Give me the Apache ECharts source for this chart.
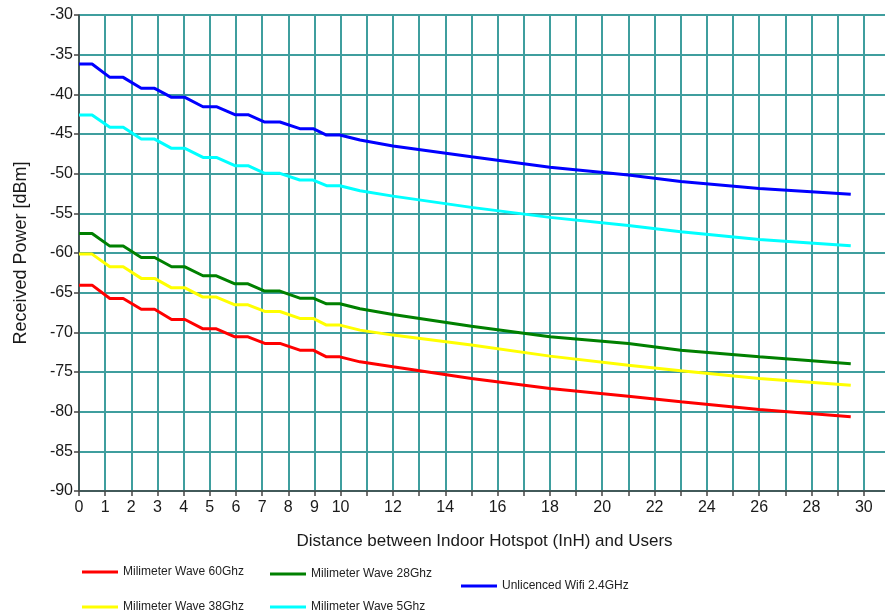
<!DOCTYPE html>
<html>
<head>
<meta charset="utf-8">
<script src="https://cdn.jsdelivr.net/npm/echarts@6/dist/echarts.min.js"></script>
<style>
html,body{margin:0;padding:0;background:#fff;overflow:hidden;width:885px;height:616px;}
#chart{width:890px;height:616px;}
</style>
</head>
<body>
<div id="chart"></div>
<script>
// Distance (x) positions of the staircase vertices
const distance = [0,0.5,1.18,1.69,2.38,2.89,3.54,4.05,4.74,5.25,5.96,6.46,7.1,7.68,8.44,8.95,9.46,9.97,10.74,12,15,18,21,23,26,29.5];

const mmWave60 = [-64.05,-64.05,-65.73,-65.73,-67.08,-67.08,-68.38,-68.38,-69.56,-69.56,-70.57,-70.57,-71.4,-71.4,-72.25,-72.25,-73.09,-73.09,-73.72,-74.35,-75.81,-77.07,-78.05,-78.76,-79.72,-80.65];
const mmWave28 = [-57.53,-57.53,-59.13,-59.13,-60.56,-60.56,-61.74,-61.74,-62.87,-62.87,-63.88,-63.88,-64.8,-64.8,-65.69,-65.69,-66.4,-66.4,-67.03,-67.75,-69.22,-70.57,-71.4,-72.25,-73.09,-73.97];
const wifi24 = [-36.18,-36.18,-37.86,-37.86,-39.24,-39.24,-40.38,-40.38,-41.56,-41.56,-42.57,-42.57,-43.49,-43.49,-44.33,-44.33,-45.13,-45.13,-45.76,-46.52,-47.87,-49.2,-50.18,-51.0,-51.86,-52.6];
const mmWave38 = [-60.14,-60.14,-61.74,-61.74,-63.2,-63.2,-64.39,-64.39,-65.56,-65.56,-66.53,-66.53,-67.37,-67.37,-68.25,-68.25,-69.09,-69.09,-69.72,-70.35,-71.61,-73.0,-74.14,-74.85,-75.81,-76.66];
const mmWave5 = [-42.6,-42.6,-44.16,-44.16,-45.64,-45.64,-46.81,-46.81,-47.95,-47.95,-49.0,-49.0,-49.96,-49.96,-50.8,-50.8,-51.52,-51.52,-52.15,-52.83,-54.25,-55.51,-56.52,-57.33,-58.29,-59.09];

const seriesNames = ['Milimeter Wave 60Ghz','Milimeter Wave 28Ghz','Unlicenced Wifi 2.4GHz','Milimeter Wave 38Ghz','Milimeter Wave 5Ghz'];
const seriesValues = [mmWave60, mmWave28, wifi24, mmWave38, mmWave5];
const seriesColors = ['#ff0000','#008000','#0000ff','#ffff00','#00ffff'];

const xTitle = 'Distance between Indoor Hotspot (InH) and Users';
const yTitle = 'Received Power [dBm]';

const legendPos = [
  {left:82, top:566},
  {left:270, top:568},
  {left:461, top:580},
  {left:82, top:601},
  {left:270, top:601}
];

const font = 'Liberation Sans, Arial, sans-serif';
const chart = echarts.init(document.getElementById('chart'), null, {renderer:'canvas'});

const option = {
  animation:false,
  backgroundColor:'#ffffff',
  grid:{left:79, top:15, right:0, bottom:125, show:true, borderColor:'#444', borderWidth:1},
  legend: seriesNames.map((n,i)=>({
    data:[n], left:legendPos[i].left, top:legendPos[i].top,
    icon:'rect', itemWidth:36, itemHeight:3, itemGap:0, padding:0,
    textStyle:{fontFamily:font, fontSize:12, color:'#222'}
  })),
  xAxis:{
    type:'value', min:0, max:31, interval:1,
    name:xTitle, nameLocation:'middle', nameGap:42,
    nameTextStyle:{fontFamily:font, fontSize:17, color:'#1a1a1a'},
    axisLine:{show:true, lineStyle:{color:'#444', width:1.5}},
    axisTick:{show:true, length:5, lineStyle:{color:'#444', width:1.5}},
    axisLabel:{fontFamily:font, fontSize:16, color:'#1a1a1a', margin:9, showMaxLabel:false,
      formatter:function(v){ if(Math.abs(v-Math.round(v))>1e-6) return ''; if(v>30) return ''; if(v>10 && v%2!==0) return ''; return String(v);} },
    splitLine:{show:true, lineStyle:{color:'#3f9e9e', width:2}}
  },
  yAxis:{
    type:'value', min:-90, max:-30, interval:5,
    name:yTitle, nameLocation:'middle', nameGap:49,
    nameTextStyle:{fontFamily:font, fontSize:18, color:'#1a1a1a'},
    axisLine:{show:true, lineStyle:{color:'#444', width:1.5}},
    axisTick:{show:true, length:5, lineStyle:{color:'#444', width:1.5}},
    axisLabel:{fontFamily:font, fontSize:16, color:'#1a1a1a', margin:6},
    splitLine:{show:true, lineStyle:{color:'#3f9e9e', width:2}}
  },
  series: seriesNames.map((n,i)=>({
    name:n, type:'line', showSymbol:false, symbol:'none',
    data: distance.map((d,j)=>[d, seriesValues[i][j]]),
    lineStyle:{color:seriesColors[i], width:3},
    itemStyle:{color:seriesColors[i]}
  }))
};
chart.setOption(option);
</script>
</body>
</html>
